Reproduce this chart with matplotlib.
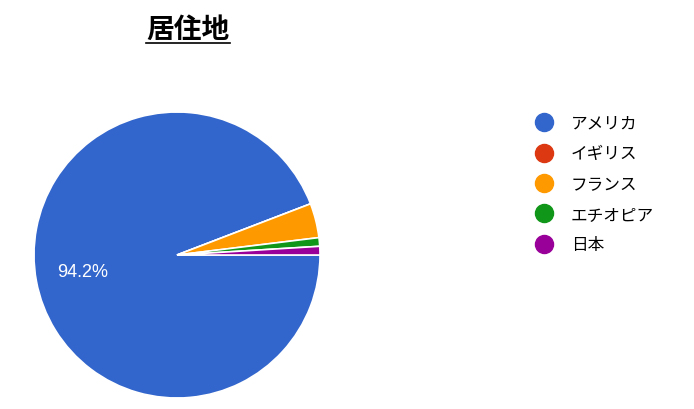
import matplotlib
matplotlib.use("Agg")
import numpy as np
from matplotlib import pyplot as plt
from matplotlib.lines import Line2D

plt.rcParams['font.family'] = ['Noto Sans CJK JP', 'DejaVu Sans']

# data
countries = ['アメリカ', 'イギリス', 'フランス', 'エチオピア', '日本']
counts = [97, 0, 4, 1, 1]
colors = ['#3366cc', '#dc3912', '#ff9900', '#109618', '#990099']
title = '居住地'

W, H = 694, 410
fig = plt.figure(figsize=(W / 100, H / 100), dpi=100)

# pie centre (177, 256) px, radius 143 px
cx, cy, r = 177, 256, 143
ax = fig.add_axes([(cx - r) / W, (H - cy - r) / H, 2 * r / W, 2 * r / H])
wedges, _ = ax.pie(counts, colors=colors, startangle=0, counterclock=False,
                   wedgeprops=dict(edgecolor='white', linewidth=1.2))
ax.set_xlim(-1, 1)
ax.set_ylim(-1, 1)
ax.set_aspect('equal')
ax.axis('off')

# only the big slice gets a label (like google charts)
total = sum(counts)
pct = counts[0] / total * 100
ang = np.deg2rad(190)
ax.text(0.67 * np.cos(ang), 0.67 * np.sin(ang), f'{pct:.1f}%', color='white',
        fontsize=13, family='Liberation Sans', ha='center', va='center')

# title with underline
t = fig.text(188 / W, 1 - 30 / H, title, fontsize=20, fontweight='bold',
             ha='center', va='center')
fig.canvas.draw()
bb = t.get_window_extent()
uy = (H - 44) / H
fig.add_artist(Line2D([bb.x0 / W, bb.x1 / W], [uy, uy], color='black', lw=1.2))

# legend
handles = [Line2D([], [], marker='o', linestyle='none', markersize=13,
                  markerfacecolor=c, markeredgecolor=c) for c in colors]
fig.legend(handles, countries, loc='upper left',
           bbox_to_anchor=(519 / W, 1 - 101 / H), frameon=False,
           fontsize=12, labelspacing=0.8, handletextpad=1.0, handlelength=1.2)

fig.savefig('out.png', dpi=100)
